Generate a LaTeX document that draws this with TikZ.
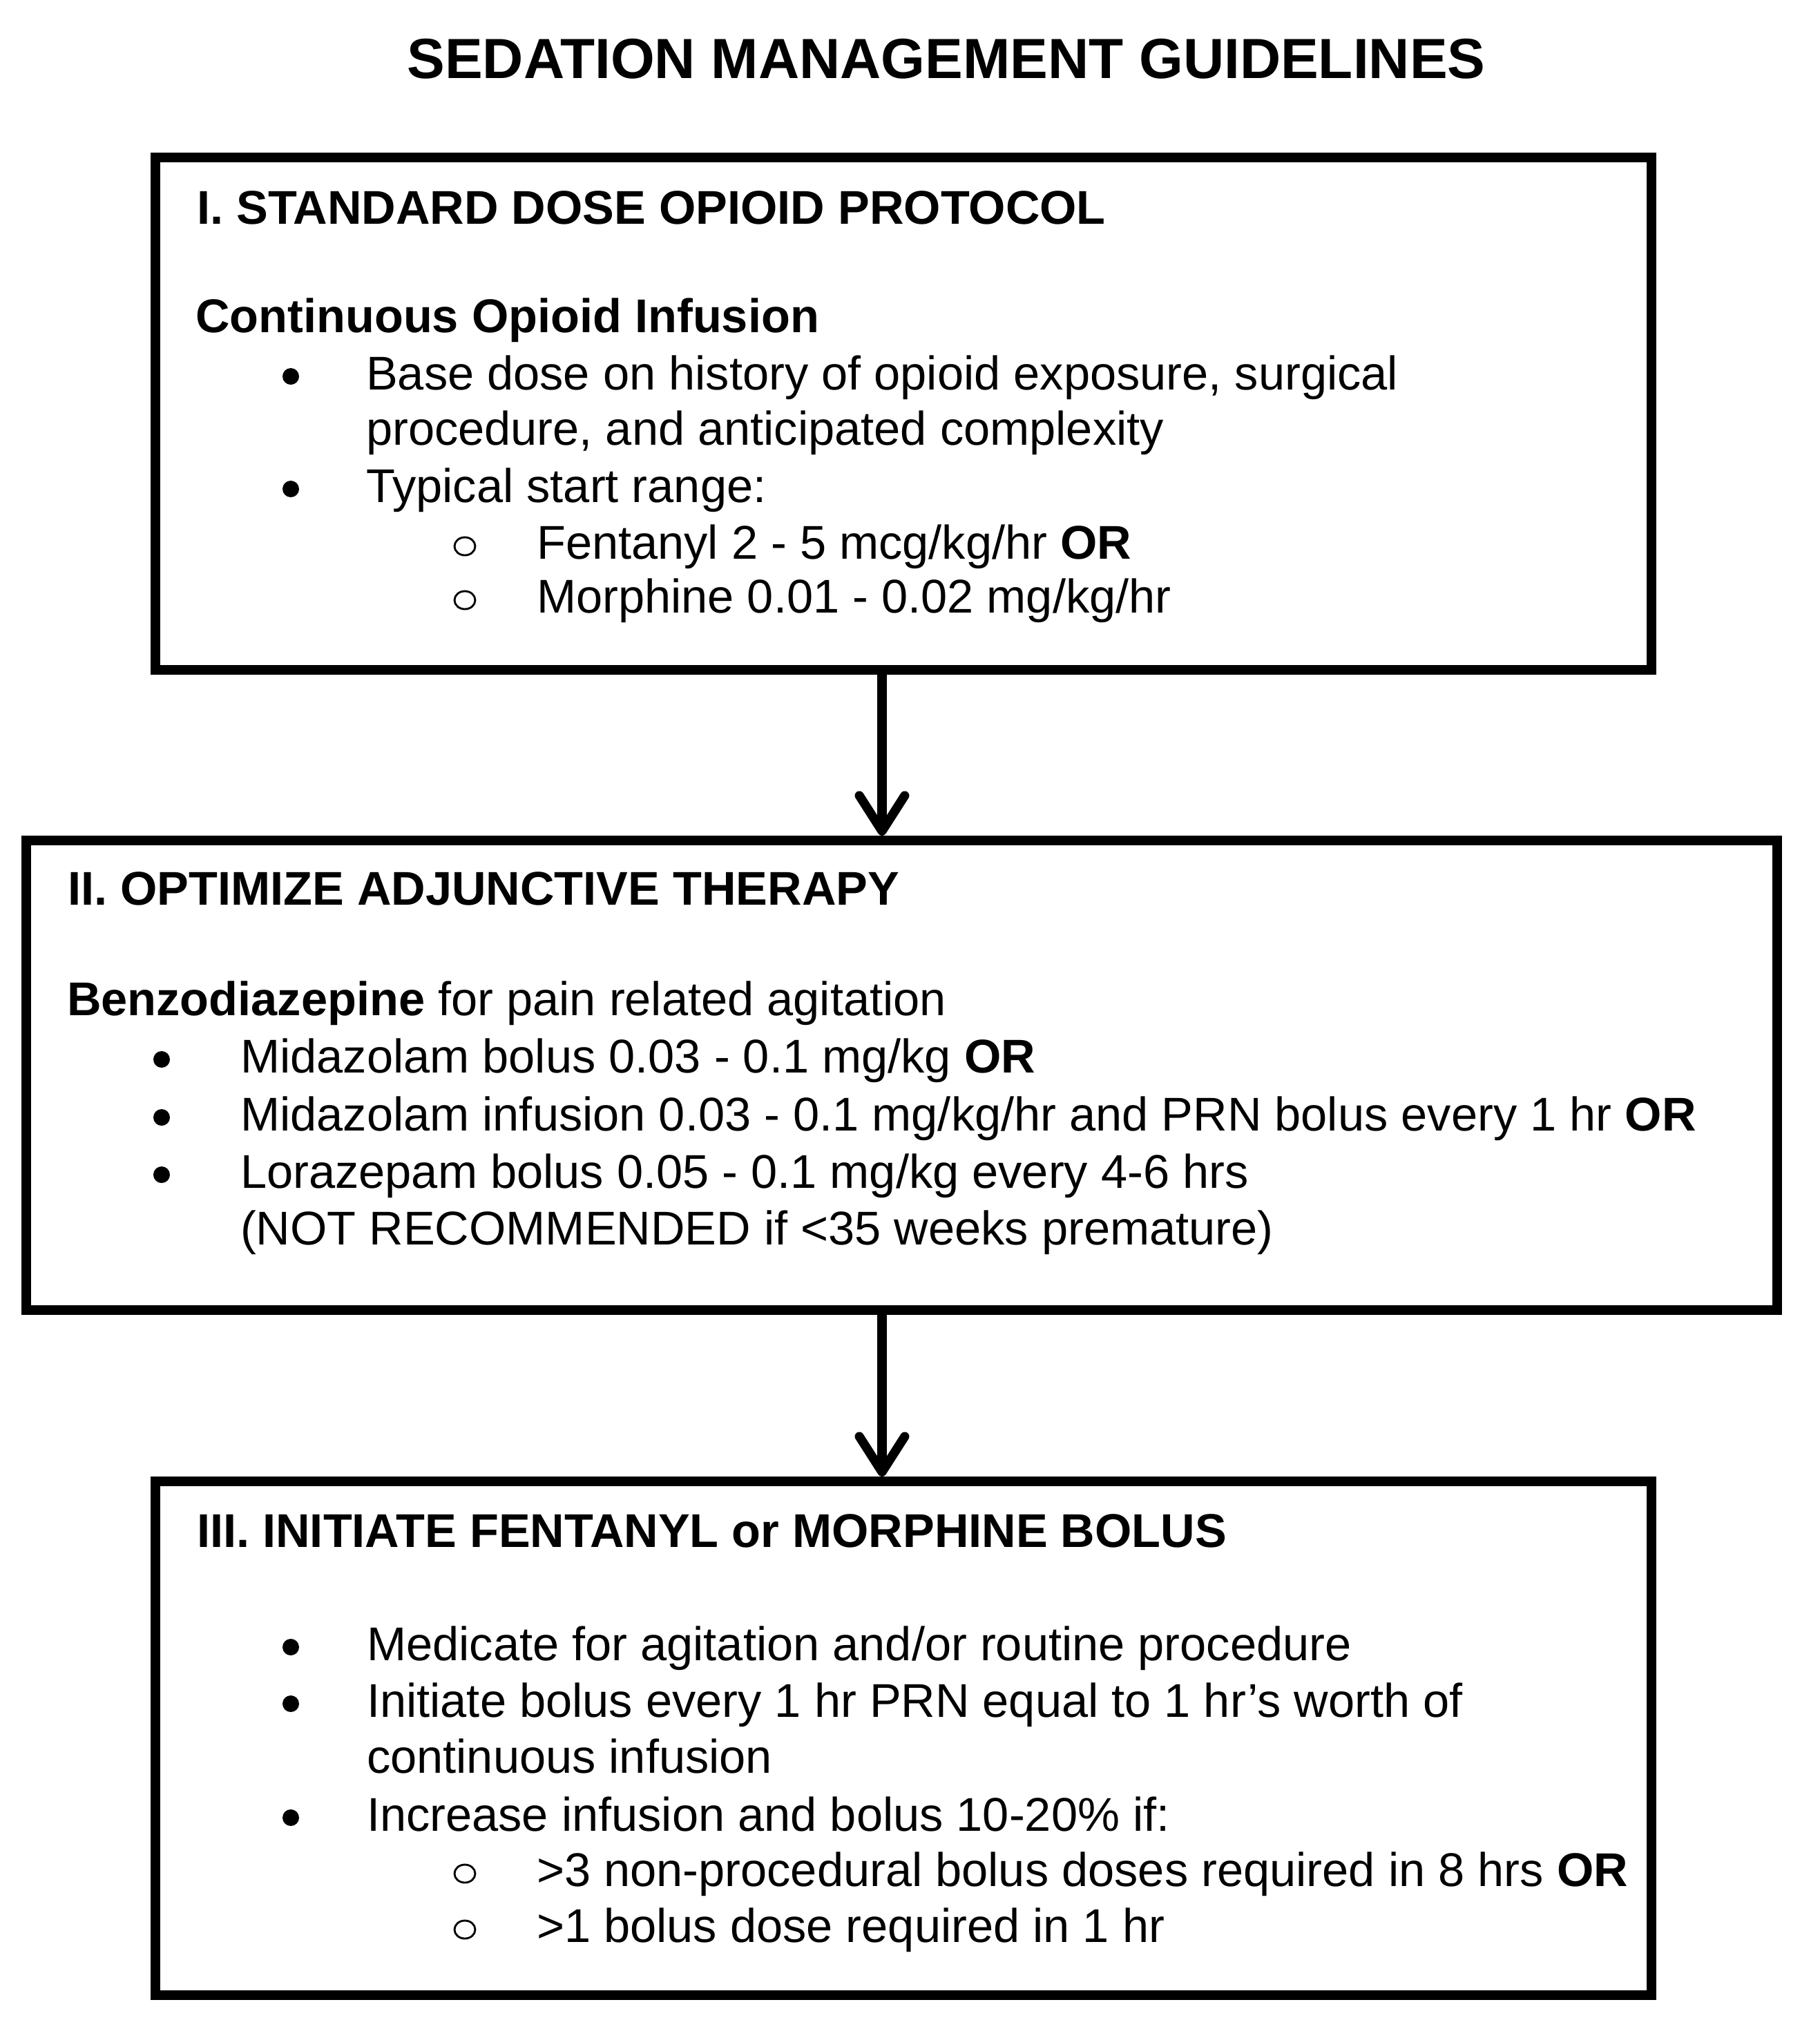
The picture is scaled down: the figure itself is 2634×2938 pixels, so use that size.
\documentclass[tikz,border=0pt]{standalone}
\usepackage{fontspec}
\setmainfont{Liberation Sans}
\usetikzlibrary{arrows.meta,fit}
\begin{document}
\begin{tikzpicture}[x=0.175pt,y=-0.175pt,
  box/.style={draw=black, line width=2.45pt, rectangle, inner sep=0pt},
  txt/.style={anchor=base west, inner sep=0pt, font=\fontsize{12}{14}\selectfont},
  ttl/.style={anchor=base, inner sep=0pt, font=\fontsize{14.35}{17}\selectfont\bfseries},
  dot/.style={fill=black, draw=none},
  ring/.style={draw=black, line width=0.5pt},
  arr/.style={line width=2.3pt, -{Straight Barb[length=9pt, width=11.5pt, round]}}]
\useasboundingbox (0,0) rectangle (2634,2938);
% title
\node[ttl] (title) at (1370,113) {SEDATION MANAGEMENT GUIDELINES};
% boxes
\node[box, fit={(225,228) (2391,970)}] (b1) {};
\node[box, fit={(38,1217) (2573,1897)}] (b2) {};
\node[box, fit={(225,2145) (2391,2889)}] (b3) {};
\coordinate (ax) at (1277,0);
\draw[arr] (b1.south -| ax) -- (b2.north -| ax);
\draw[arr] (b2.south -| ax) -- (b3.north -| ax);
% box 1
\node[txt, font=\fontsize{12}{14}\selectfont\bfseries] (h1) at (284,324) {I. STANDARD DOSE OPIOID PROTOCOL};
\node[txt, font=\fontsize{12}{14}\selectfont\bfseries] (c1) at (282,481) {Continuous Opioid Infusion};
\fill[dot] (421,545) circle (12);
\node[txt] (t11) at (529,564) {Base dose on history of opioid exposure, surgical};
\node[txt] (t12) at (529,644) {procedure, and anticipated complexity};
\fill[dot] (421,708) circle (12);
\node[txt] (t13) at (529,727) {Typical start range:};
\draw[ring] (673,791) ellipse (15 and 13);
\node[txt] (t14) at (776,809) {Fentanyl 2 - 5 mcg/kg/hr \textbf{OR}};
\draw[ring] (673,869) ellipse (15 and 13);
\node[txt] (t15) at (776,887) {Morphine 0.01 - 0.02 mg/kg/hr};
% box 2
\node[txt, font=\fontsize{12}{14}\selectfont\bfseries] (h2) at (97,1310) {II. OPTIMIZE ADJUNCTIVE THERAPY};
\node[txt] (c2) at (96,1470) {\textbf{Benzodiazepine} for pain related agitation};
\fill[dot] (234,1534) circle (12);
\node[txt] (t21) at (347,1553) {Midazolam bolus 0.03 - 0.1 mg/kg \textbf{OR}};
\fill[dot] (234,1618) circle (12);
\node[txt] (t22) at (347,1637) {Midazolam infusion 0.03 - 0.1 mg/kg/hr and PRN bolus every 1 hr \textbf{OR}};
\fill[dot] (234,1701) circle (12);
\node[txt] (t23) at (347,1720) {Lorazepam bolus 0.05 - 0.1 mg/kg every 4-6 hrs};
\node[txt] (t24) at (347,1802) {(NOT RECOMMENDED if <35 weeks premature)};
% box 3
\node[txt, font=\fontsize{12}{14}\selectfont\bfseries] (h3) at (284,2240) {III. INITIATE FENTANYL or MORPHINE BOLUS};
\fill[dot] (421,2385) circle (12);
\node[txt] (t31) at (530,2404) {Medicate for agitation and/or routine procedure};
\fill[dot] (421,2467) circle (12);
\node[txt] (t32) at (530,2486) {Initiate bolus every 1 hr PRN equal to 1 hr’s worth of};
\node[txt] (t33) at (530,2567) {continuous infusion};
\fill[dot] (421,2632) circle (12);
\node[txt] (t34) at (530,2651) {Increase infusion and bolus 10-20\% if:};
\draw[ring] (673,2713) ellipse (15 and 13);
\node[txt] (t35) at (776,2731) {>3 non-procedural bolus doses required in 8 hrs \textbf{OR}};
\draw[ring] (673,2794) ellipse (15 and 13);
\node[txt] (t36) at (776,2812) {>1 bolus dose required in 1 hr};
\end{tikzpicture}
\end{document}
